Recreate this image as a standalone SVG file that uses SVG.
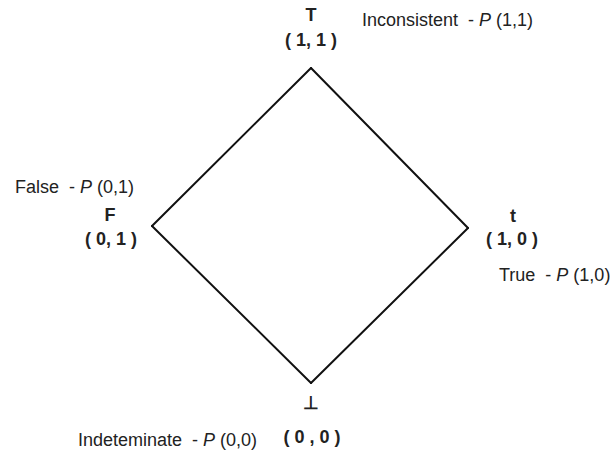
<svg xmlns="http://www.w3.org/2000/svg" width="612" height="454" viewBox="0 0 612 454">
<style>
text{font-family:"Liberation Sans",Arial,sans-serif;fill:#222;white-space:pre}
.n{font-size:18px;font-weight:bold;text-anchor:middle}
.d{font-size:18px}
.e{stroke:#111;stroke-width:2;fill:none;stroke-linecap:round}
</style>
<rect width="612" height="454" fill="#fff"/>
<g id="connectors">
<line class="e" x1="311" y1="68" x2="468" y2="228"/>
<line class="e" x1="468" y1="228" x2="311" y2="383"/>
<line class="e" x1="311" y1="383" x2="152" y2="226"/>
<line class="e" x1="152" y1="226" x2="311" y2="68"/>
</g>
<g id="node-top">
<text class="n" x="311" y="21">T</text>
<text class="n" x="311" y="46">( 1, 1 )</text>
<text class="d" x="362" y="26" xml:space="preserve">Inconsistent  - <tspan font-style="italic">P</tspan> (1,1)</text>
</g>
<g id="node-left">
<text class="d" x="15" y="193" xml:space="preserve">False  - <tspan font-style="italic">P</tspan> (0,1)</text>
<text class="n" x="110" y="221">F</text>
<text class="n" x="111" y="245">( 0, 1 )</text>
</g>
<g id="node-right">
<text class="n" x="513" y="222">t</text>
<text class="n" x="512" y="245">( 1, 0 )</text>
<text class="d" x="499" y="281" xml:space="preserve">True  - <tspan font-style="italic">P</tspan> (1,0)</text>
</g>
<g id="node-bottom">
<text class="n" x="311" y="409">⊥</text>
<text class="n" x="312" y="443">( 0 , 0 )</text>
<text class="d" x="78" y="446" xml:space="preserve">Indeteminate  - <tspan font-style="italic">P</tspan> (0,0)</text>
</g>
</svg>
